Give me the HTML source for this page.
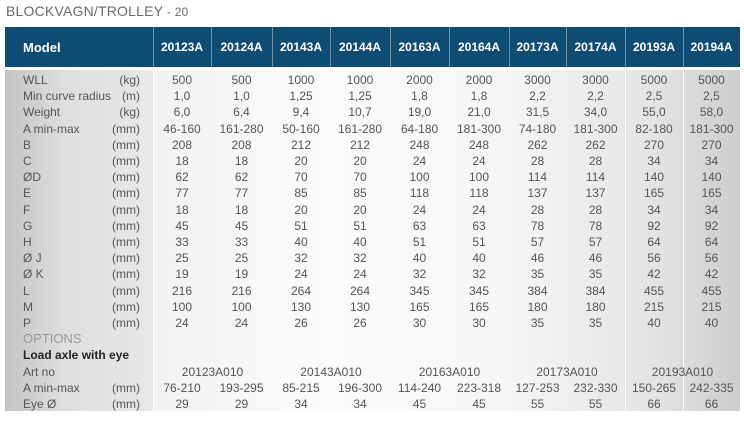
<!DOCTYPE html>
<html><head><meta charset="utf-8"><style>
body{margin:0;width:744px;height:423px;background:#fff;position:relative;overflow:hidden;font-family:"Liberation Sans",sans-serif;}
.title{position:absolute;left:6px;top:3px;font-size:14px;color:#6a6a6a;letter-spacing:0.2px}
.title small{font-size:12px}
.hdr{position:absolute;left:5px;top:27px;width:735px;height:40px;background:#0f4c73;}
.hs{position:absolute;top:27px;height:40px;width:1px;background:#6d8fa8}
.bg{position:absolute;top:70px;height:341px}
.sep{position:absolute;top:70px;height:341px;width:1px;background:#fff}
table{position:absolute;border-collapse:collapse;table-layout:fixed}
td{padding:0;white-space:nowrap;overflow:visible}
#h td{height:40px;color:#fff;font-weight:bold;font-size:12px;text-align:center}
#b tr{height:16.2px}
#b td{height:16.2px;line-height:16.2px;font-size:12px;color:#555;text-align:center}
#b td.l{text-align:left;padding-left:18px;color:#555;position:relative}
#b td.l span{position:absolute;right:13px;top:0}
</style></head><body>
<div class="title">BLOCKVAGN/TROLLEY <small>- 20</small></div>
<div class="hdr"></div>
<div class="hs" style="left:153px"></div><div class="hs" style="left:211px"></div><div class="hs" style="left:272px"></div><div class="hs" style="left:330px"></div><div class="hs" style="left:390px"></div><div class="hs" style="left:449px"></div><div class="hs" style="left:509px"></div><div class="hs" style="left:566px"></div><div class="hs" style="left:625px"></div><div class="hs" style="left:683px"></div>
<div class="bg" style="left:5px;width:148px;background:linear-gradient(to right,#c4c4c4,#dedede 40%,#e8e8e8)"></div>
<div class="bg" style="left:153px;width:587px;background:linear-gradient(to right,#f2f2f2,#fbfbfb 30%,#f6f6f6 60%,#e4e4e4 85%,#cdcdcd)"></div>
<div class="sep" style="left:153px"></div><div class="sep" style="left:625px"></div><div class="sep" style="left:683px"></div>
<table id="h" style="left:5px;top:27px;width:735px">
<colgroup><col style="width:148px"><col style="width:58px"><col style="width:61px"><col style="width:58px"><col style="width:60px"><col style="width:59px"><col style="width:60px"><col style="width:57px"><col style="width:59px"><col style="width:58px"><col style="width:57px"></colgroup>
<tr><td style="text-align:left;padding-left:18px;font-size:13px">Model</td><td>20123A</td><td>20124A</td><td>20143A</td><td>20144A</td><td>20163A</td><td>20164A</td><td>20173A</td><td>20174A</td><td>20193A</td><td>20194A</td></tr>
</table>
<table id="b" style="left:5px;top:72px;width:735px">
<colgroup><col style="width:148px"><col style="width:58px"><col style="width:61px"><col style="width:58px"><col style="width:60px"><col style="width:59px"><col style="width:60px"><col style="width:57px"><col style="width:59px"><col style="width:58px"><col style="width:57px"></colgroup>
<tr><td class="l">WLL<span>(kg)</span></td><td>500</td><td>500</td><td>1000</td><td>1000</td><td>2000</td><td>2000</td><td>3000</td><td>3000</td><td>5000</td><td>5000</td></tr>
<tr><td class="l">Min curve radius<span>(m)</span></td><td>1,0</td><td>1,0</td><td>1,25</td><td>1,25</td><td>1,8</td><td>1,8</td><td>2,2</td><td>2,2</td><td>2,5</td><td>2,5</td></tr>
<tr><td class="l">Weight<span>(kg)</span></td><td>6,0</td><td>6,4</td><td>9,4</td><td>10,7</td><td>19,0</td><td>21,0</td><td>31,5</td><td>34,0</td><td>55,0</td><td>58,0</td></tr>
<tr><td class="l">A min-max<span>(mm)</span></td><td>46-160</td><td>161-280</td><td>50-160</td><td>161-280</td><td>64-180</td><td>181-300</td><td>74-180</td><td>181-300</td><td>82-180</td><td>181-300</td></tr>
<tr><td class="l">B<span>(mm)</span></td><td>208</td><td>208</td><td>212</td><td>212</td><td>248</td><td>248</td><td>262</td><td>262</td><td>270</td><td>270</td></tr>
<tr><td class="l">C<span>(mm)</span></td><td>18</td><td>18</td><td>20</td><td>20</td><td>24</td><td>24</td><td>28</td><td>28</td><td>34</td><td>34</td></tr>
<tr><td class="l">ØD<span>(mm)</span></td><td>62</td><td>62</td><td>70</td><td>70</td><td>100</td><td>100</td><td>114</td><td>114</td><td>140</td><td>140</td></tr>
<tr><td class="l">E<span>(mm)</span></td><td>77</td><td>77</td><td>85</td><td>85</td><td>118</td><td>118</td><td>137</td><td>137</td><td>165</td><td>165</td></tr>
<tr><td class="l">F<span>(mm)</span></td><td>18</td><td>18</td><td>20</td><td>20</td><td>24</td><td>24</td><td>28</td><td>28</td><td>34</td><td>34</td></tr>
<tr><td class="l">G<span>(mm)</span></td><td>45</td><td>45</td><td>51</td><td>51</td><td>63</td><td>63</td><td>78</td><td>78</td><td>92</td><td>92</td></tr>
<tr><td class="l">H<span>(mm)</span></td><td>33</td><td>33</td><td>40</td><td>40</td><td>51</td><td>51</td><td>57</td><td>57</td><td>64</td><td>64</td></tr>
<tr><td class="l">Ø J<span>(mm)</span></td><td>25</td><td>25</td><td>32</td><td>32</td><td>40</td><td>40</td><td>46</td><td>46</td><td>56</td><td>56</td></tr>
<tr><td class="l">Ø K<span>(mm)</span></td><td>19</td><td>19</td><td>24</td><td>24</td><td>32</td><td>32</td><td>35</td><td>35</td><td>42</td><td>42</td></tr>
<tr><td class="l">L<span>(mm)</span></td><td>216</td><td>216</td><td>264</td><td>264</td><td>345</td><td>345</td><td>384</td><td>384</td><td>455</td><td>455</td></tr>
<tr><td class="l">M<span>(mm)</span></td><td>100</td><td>100</td><td>130</td><td>130</td><td>165</td><td>165</td><td>180</td><td>180</td><td>215</td><td>215</td></tr>
<tr><td class="l">P<span>(mm)</span></td><td>24</td><td>24</td><td>26</td><td>26</td><td>30</td><td>30</td><td>35</td><td>35</td><td>40</td><td>40</td></tr>
<tr><td class="l" style="color:#999;font-size:13px">OPTIONS</td><td colspan="10"></td></tr>
<tr><td class="l" style="color:#222;font-weight:bold;font-size:12px" colspan="2">Load axle with eye</td><td colspan="9"></td></tr>
<tr><td class="l">Art no</td><td colspan="2">20123A010</td><td colspan="2">20143A010</td><td colspan="2">20163A010</td><td colspan="2">20173A010</td><td colspan="2">20193A010</td></tr>
<tr><td class="l">A min-max<span>(mm)</span></td><td>76-210</td><td>193-295</td><td>85-215</td><td>196-300</td><td>114-240</td><td>223-318</td><td>127-253</td><td>232-330</td><td>150-265</td><td>242-335</td></tr>
<tr><td class="l">Eye Ø<span>(mm)</span></td><td>29</td><td>29</td><td>34</td><td>34</td><td>45</td><td>45</td><td>55</td><td>55</td><td>66</td><td>66</td></tr>
</table>
</body></html>
